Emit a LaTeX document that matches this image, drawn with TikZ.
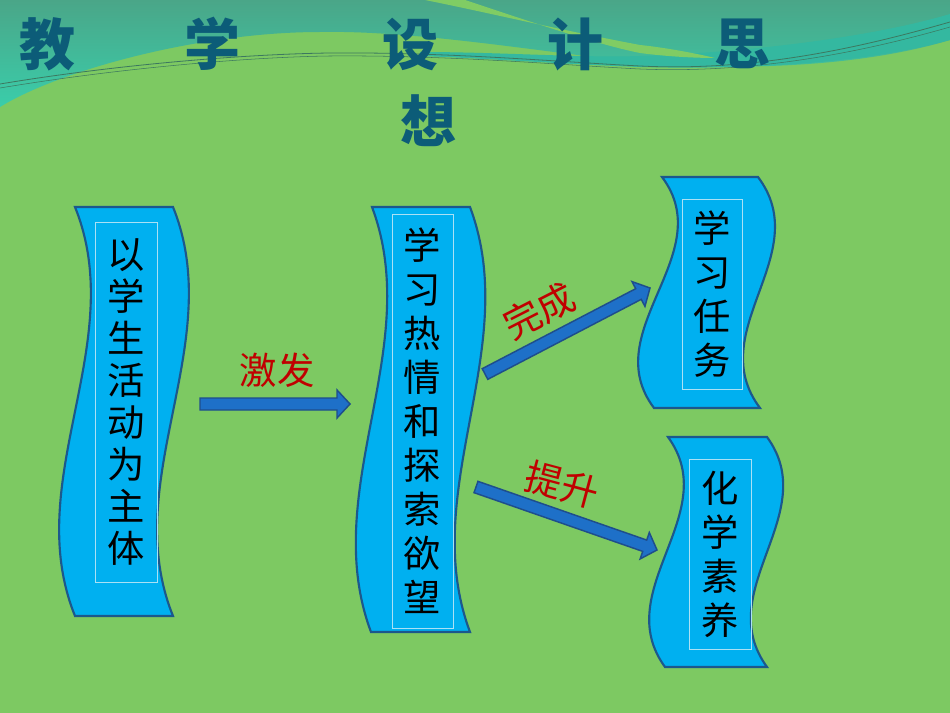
\documentclass[tikz,border=0pt]{standalone}
\usepackage{fontspec}
\newfontfamily\cjk{Noto Sans CJK SC}
\usetikzlibrary{calc}
\definecolor{bggreen}{RGB}{125,201,98}
\definecolor{stripegreen}{RGB}{128,204,100}
\definecolor{tealtop}{RGB}{74,166,136}
\definecolor{tealbot}{RGB}{58,205,170}
\definecolor{ribbon}{RGB}{52,184,160}
\definecolor{thinline}{RGB}{60,120,95}
\definecolor{titlecol}{RGB}{12,92,120}
\definecolor{bannerfill}{RGB}{0,176,240}
\definecolor{bannerborder}{RGB}{28,88,140}
\definecolor{innerborder}{RGB}{170,225,245}
\definecolor{arrowfill}{RGB}{30,112,200}
\definecolor{arrowborder}{RGB}{30,78,140}
\definecolor{labelred}{RGB}{192,0,0}
\tikzset{
  banner/.style={fill=bannerfill, draw=bannerborder, line width=1.6pt},
  innerbox/.style={draw=innerborder, line width=0.6pt, inner sep=0pt, align=center,
    font=\cjk\fontsize{28}{33}\selectfont, text=black},
  titlechar/.style={font=\cjk\bfseries\fontsize{42}{42}\selectfont, text=titlecol, inner sep=0pt},
  redlabel/.style={font=\cjk\fontsize{28}{28}\selectfont, text=labelred, inner sep=0pt},
  blockarrow/.style={fill=arrowfill, draw=arrowborder, line width=1.1pt, line join=miter},
}
\newcommand\wavebanner[7]{%
  \draw[banner] (#3,#1) -- (#5,#1)
    .. controls ({#5+#7},{#1+(#2-#1)/3}) and ({#6-#7},{#1+2*(#2-#1)/3}) .. (#6,#2)
    -- (#4,#2)
    .. controls ({#4-#7},{#1+2*(#2-#1)/3}) and ({#3+#7},{#1+(#2-#1)/3}) .. cycle;}
\newcommand\bigarrow[2]{%
  \coordinate (#1h) at ($(#2)!9.75pt!(#1)$);
  \draw[blockarrow] ($(#1)!4.5pt!90:(#2)$) -- ($(#1h)!4.5pt!90:(#2)$)
    -- ($(#1h)!10.5pt!90:(#2)$) -- (#2) -- ($(#1h)!10.5pt!-90:(#2)$)
    -- ($(#1h)!4.5pt!-90:(#2)$) -- ($(#1)!4.5pt!-90:(#2)$) -- cycle;}
\begin{document}
\begin{tikzpicture}[x=0.75pt,y=-0.75pt]
\useasboundingbox (0,0) rectangle (950,713);
\fill[bggreen] (0,0) rectangle (950,713);
% top teal background
\shade[top color=tealtop, bottom color=tealbot]
  (0,0) -- (950,0) -- (950,40) .. controls (850,70) and (720,70) .. (640,62)
  .. controls (560,55) and (420,30) .. (320,32)
  .. controls (200,32) and (60,70) .. (0,107) -- cycle;
% ribbon on right
\fill[ribbon] (420,52) .. controls (500,52) and (580,58) .. (640,56)
  .. controls (760,52) and (880,35) .. (950,14) -- (950,40)
  .. controls (870,62) and (760,70) .. (640,67)
  .. controls (560,64) and (480,58) .. (420,56) -- cycle;
% green stripe
\fill[stripegreen] (425,0) -- (465,0) .. controls (540,25) and (600,45) .. (640,53)
  .. controls (670,57) and (700,58) .. (715,58)
  .. controls (690,52) and (660,47) .. (640,45)
  .. controls (560,30) and (485,12) .. (425,0) -- cycle;
% thin lines
\draw[thinline, line width=0.6pt] (0,84) .. controls (120,64) and (250,54) .. (330,53)
  .. controls (450,52) and (560,62) .. (640,66) .. controls (760,72) and (870,45) .. (950,22);
\draw[thinline, line width=0.4pt] (0,88) .. controls (120,68) and (250,57) .. (330,56)
  .. controls (450,55) and (560,65) .. (640,69) .. controls (760,74) and (870,50) .. (950,27);
% title
\node[titlechar] (ti1) at (47,44) {教};
\node[titlechar] (ti2) at (212,44) {学};
\node[titlechar] (ti3) at (410,44) {设};
\node[titlechar] (ti4) at (575,44) {计};
\node[titlechar] (ti5) at (742,44) {思};
\node[titlechar] (ti6) at (428,121) {想};
% banners
\wavebanner{207}{616}{75}{75}{173}{173}{55}
\wavebanner{207}{632}{372}{371}{470}{470}{53}
\wavebanner{177}{408}{662}{654}{758}{760}{58}
\wavebanner{437}{667}{668}{665}{767}{767}{56}
% inner text boxes
\node[innerbox, minimum width=46.5pt, minimum height=270pt, font=\cjk\fontsize{28}{31.5}\selectfont] (t1) at (126,402)
  {以\\学\\生\\活\\动\\为\\主\\体};
\node[innerbox, minimum width=45.75pt, minimum height=310.5pt] (t2) at (422.5,421)
  {学\\习\\热\\情\\和\\探\\索\\欲\\望};
\node[innerbox, minimum width=45pt, minimum height=142.5pt] (t3) at (712,294)
  {学\\习\\任\\务};
\node[innerbox, minimum width=46.5pt, minimum height=142.5pt] (t4) at (720,554)
  {化\\学\\素\\养};
% arrows
\coordinate (a1s) at (200,404);
\coordinate (a1e) at (350,404);
\coordinate (a2s) at (485,374);
\coordinate (a2e) at (650,288);
\coordinate (a3s) at (476,487);
\coordinate (a3e) at (657,550);
\bigarrow{a1s}{a1e}
\bigarrow{a2s}{a2e}
\bigarrow{a3s}{a3e}
% labels
\node[redlabel] (l1) at (277,370) {激发};
\node[redlabel, rotate=27] (l2) at (539,311) {完成};
\node[redlabel, rotate=-15] (l3) at (562,485) {提升};
\end{tikzpicture}
\end{document}
